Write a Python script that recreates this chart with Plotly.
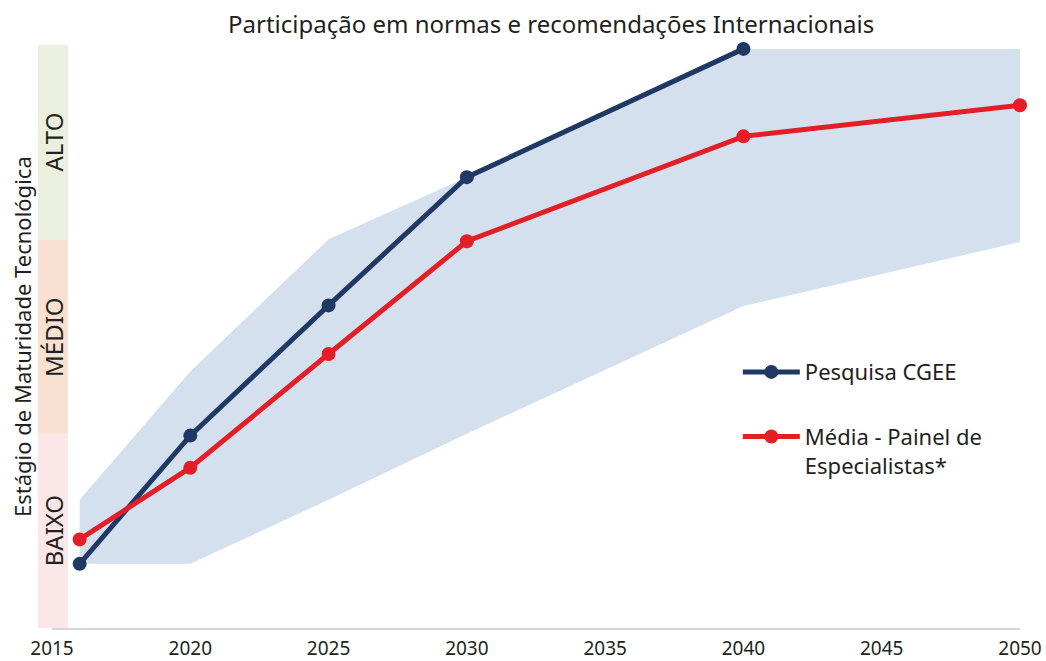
import plotly.graph_objects as go

# Data
years_cgee = [2016, 2020, 2025, 2030, 2040]
cgee = [0.33, 0.99, 1.66, 2.32, 2.98]

years_media = [2016, 2020, 2025, 2030, 2040, 2050]
media = [0.456, 0.825, 1.41, 1.99, 2.53, 2.69]

band_years = [2016, 2020, 2025, 2030, 2040, 2050]
band_low = [0.33, 0.33, 0.66, 1.0, 1.657, 1.986]
band_high = [0.66, 1.32, 2.0, 2.32, 2.98, 2.98]

stage_labels = ["BAIXO", "MÉDIO", "ALTO"]
stage_colors = ["#fbe6e8", "#f9e1d1", "#eaf0dd"]

x_ticks = [2015, 2020, 2025, 2030, 2035, 2040, 2045, 2050]

title = "Participação em normas e recomendações Internacionais"
y_title = "Estágio de Maturidade Tecnológica"

NAVY = "#1f3864"
RED = "#e21f26"
BAND = "#d5e0ef"
TXT = "#231f20"
FONT = "Noto Sans"

fig = go.Figure()

fig.add_trace(go.Scatter(x=band_years, y=band_low, mode="lines",
                         line=dict(width=0), showlegend=False, hoverinfo="skip"))
fig.add_trace(go.Scatter(x=band_years, y=band_high, mode="lines",
                         line=dict(width=0), fill="tonexty", fillcolor=BAND,
                         showlegend=False, hoverinfo="skip"))

fig.add_trace(go.Scatter(x=years_cgee, y=cgee, mode="lines+markers",
                         name="Pesquisa CGEE", legendgroup="a",
                         line=dict(color=NAVY, width=5),
                         marker=dict(color=NAVY, size=14), cliponaxis=False))
fig.add_trace(go.Scatter(x=years_media, y=media, mode="lines+markers",
                         name="Média - Painel de<br>Especialistas*", legendgroup="b",
                         line=dict(color=RED, width=5),
                         marker=dict(color=RED, size=14), cliponaxis=False))

shapes = []
for i, c in enumerate(stage_colors):
    shapes.append(dict(type="rect", xref="paper", yref="y",
                       x0=-0.0145, x1=0.0165, y0=i, y1=i + 1,
                       fillcolor=c, line=dict(width=0), layer="below"))

annotations = []
for i, lab in enumerate(stage_labels):
    annotations.append(dict(text=lab, xref="paper", yref="y", x=0.0015, y=i + 0.5,
                            xanchor="center", yanchor="middle",
                            textangle=-90, showarrow=False,
                            font=dict(family=FONT, size=24, color=TXT)))
annotations.append(dict(text=y_title, xref="paper", yref="paper", x=-0.0315, y=0.5,
                        xanchor="center", yanchor="middle",
                        textangle=-90, showarrow=False,
                        font=dict(family=FONT, size=22, color=TXT)))
annotations.append(dict(text=title, xref="paper", yref="paper", x=0.515, y=1.0,
                        xanchor="center", yanchor="bottom", yshift=3, showarrow=False,
                        font=dict(family=FONT, size=24, color=TXT)))

fig.update_layout(
    width=1046, height=661,
    margin=dict(l=52, r=26, t=45, b=33, autoexpand=False),
    paper_bgcolor="white", plot_bgcolor="white",
    shapes=shapes, annotations=annotations,
    showlegend=True,
    legend=dict(x=0.7085, y=0.475, xanchor="left", yanchor="top",
                font=dict(family=FONT, size=22, color=TXT),
                itemwidth=57, tracegroupgap=33, traceorder="grouped",
                valign="top", bgcolor="rgba(0,0,0,0)"),
    xaxis=dict(range=[2015, 2050], tickvals=x_ticks, showgrid=False,
               zeroline=False, showline=True, linecolor="#d6d6d6", linewidth=2,
               ticks="", ticklabelstandoff=2, automargin=False,
               tickfont=dict(family=FONT, size=19, color=TXT)),
    yaxis=dict(range=[0, 3], showgrid=False, zeroline=False, showline=False,
               showticklabels=False, ticks="", automargin=False),
)

fig.write_html("out.html", config={"displayModeBar": False},
               post_script="document.body.style.margin='0';document.body.style.overflow='hidden';")
